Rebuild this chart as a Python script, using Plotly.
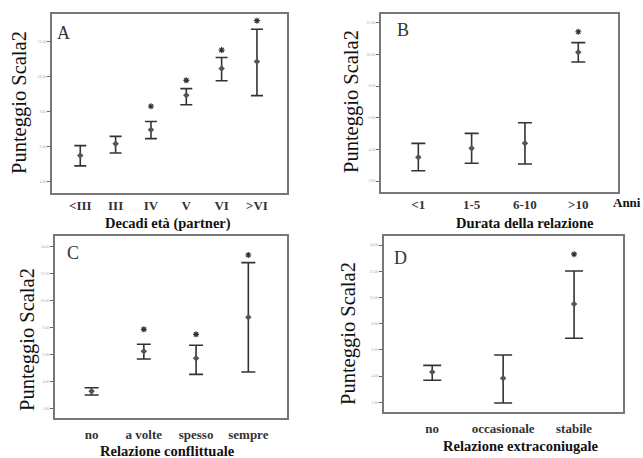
import plotly.graph_objects as go

W, H = 643, 458

# ---- data ----
a_cats = ["<III", "III", "IV", "V", "VI", ">VI"]
a_mean = [5.50, 6.17, 6.97, 8.93, 10.44, 10.84]
a_low = [4.91, 5.64, 6.46, 8.38, 9.75, 8.90]
a_high = [6.06, 6.59, 7.43, 9.30, 11.07, 12.67]
a_star_cats = ["IV", "V", "VI", ">VI"]
a_star = [8.30, 9.77, 11.49, 13.16]
a_ticks = [4, 6, 8, 10, 12]
a_ticklabels = ["4.00", "6.00", "8.00", "10.00", "12.00"]

b_cats = ["<1", "1-5", "6-10", ">10"]
b_mean = [3.50, 4.07, 4.38, 10.13]
b_low = [2.65, 3.12, 3.07, 9.52]
b_high = [4.38, 5.01, 5.68, 10.74]
b_star_cats = [">10"]
b_star = [11.43]
b_ticks = [2, 4, 6, 8, 10, 12]
b_ticklabels = ["2.00", "4.00", "6.00", "8.00", "10.00", "12.00"]

c_cats = ["no", "a volte", "spesso", "sempre"]
c_mean = [3.26, 6.23, 5.71, 8.76]
c_low = [2.99, 5.66, 4.52, 4.69]
c_high = [3.53, 6.75, 6.68, 12.81]
c_star_cats = ["a volte", "spesso", "sempre"]
c_star = [7.86, 7.49, 13.38]
c_ticks = [2, 4, 6, 8, 10, 12, 14]
c_ticklabels = ["2.00", "4.00", "6.00", "8.00", "10.00", "12.00", "14.00"]

d_cats = ["no", "occasionale", "stabile"]
d_mean = [4.31, 3.83, 9.50]
d_low = [3.68, 1.95, 6.89]
d_high = [4.82, 5.61, 12.02]
d_star_cats = ["stabile"]
d_star = [13.30]
d_ticks = [2, 4, 6, 8, 10, 12, 14]
d_ticklabels = ["2.00", "4.00", "6.00", "8.00", "10.00", "12.00", "14.00"]

panels = [
    dict(letter="A", cats=a_cats, mean=a_mean, low=a_low, high=a_high, sc=a_star_cats, sv=a_star,
         ticks=a_ticks, tl=a_ticklabels, box=(52, 287, 14, 193), yr=(3.37, 13.54), xr=(-0.8, 5.85),
         cap=6, xlabel="Decadi età (partner)", xl_pos=(168, 223), yt_pos=(19, 103),
         let_pos=(63, 33), standoff=0),
    dict(letter="B", cats=b_cats, mean=b_mean, low=b_low, high=b_high, sc=b_star_cats, sv=b_star,
         ticks=b_ticks, tl=b_ticklabels, box=(381, 618, 14, 192), yr=(1.305, 12.55), xr=(-0.7, 3.745),
         cap=7, xlabel="Durata della relazione", xl_pos=(525, 223), yt_pos=(352, 102),
         let_pos=(403, 30), standoff=0),
    dict(letter="C", cats=c_cats, mean=c_mean, low=c_low, high=c_high, sc=c_star_cats, sv=c_star,
         ticks=c_ticks, tl=c_ticklabels, box=(55, 287, 236, 418), yr=(1.28, 14.79), xr=(-0.70, 3.74),
         cap=7, xlabel="Relazione conflittuale", xl_pos=(167, 451), yt_pos=(27, 340),
         let_pos=(73, 253), standoff=4),
    dict(letter="D", cats=d_cats, mean=d_mean, low=d_low, high=d_high, sc=d_star_cats, sv=d_star,
         ticks=d_ticks, tl=d_ticklabels, box=(384, 623, 236, 412), yr=(1.26, 14.69), xr=(-0.68, 2.69),
         cap=9, xlabel="Relazione extraconiugale", xl_pos=(521, 446), yt_pos=(348, 334),
         let_pos=(400, 258), standoff=4),
]

fig = go.Figure()
annotations = []
SERIF = "Liberation Serif"

for i, p in enumerate(panels):
    n = "" if i == 0 else str(i + 1)
    xa, ya = "x" + n, "y" + n
    plus = [h - m for h, m in zip(p["high"], p["mean"])]
    minus = [m - l for m, l in zip(p["mean"], p["low"])]
    fig.add_trace(go.Scatter(
        x=p["cats"], y=p["mean"], mode="markers", xaxis=xa, yaxis=ya,
        marker=dict(symbol="diamond", size=5, color="#555"),
        error_y=dict(type="data", symmetric=False, array=plus, arrayminus=minus,
                     color="#333", thickness=1.6, width=p["cap"]),
        showlegend=False))
    fig.add_trace(go.Scatter(
        x=p["sc"], y=p["sv"], mode="markers", xaxis=xa, yaxis=ya,
        marker=dict(symbol="asterisk-open", size=5, color="#333",
                    line=dict(color="#333", width=1.2)),
        showlegend=False))
    x0, x1, y0, y1 = p["box"]
    dom_x = [x0 / W, x1 / W]
    dom_y = [1 - y1 / H, 1 - y0 / H]
    fig.layout["xaxis" + n] = dict(
        domain=dom_x, anchor=ya, type="category", categoryorder="array", categoryarray=p["cats"],
        range=list(p["xr"]), showgrid=False, zeroline=False, showline=True, mirror=True,
        linecolor="#777", linewidth=1.5, ticks="", automargin=False,
        ticklabelstandoff=p["standoff"],
        tickfont=dict(family=SERIF, size=13, color="#333", weight="bold"))
    fig.layout["yaxis" + n] = dict(
        domain=dom_y, anchor=xa, range=list(p["yr"]), tickvals=p["ticks"], ticktext=p["tl"],
        showgrid=False, zeroline=False, showline=True, mirror=True, automargin=False,
        linecolor="#777", linewidth=1.5, ticks="outside", ticklen=3, tickcolor="#666",
        tickfont=dict(family=SERIF, size=4, color="#aaa"))
    annotations.append(dict(text=p["xlabel"], x=p["xl_pos"][0] / W, y=1 - p["xl_pos"][1] / H,
                            xref="paper", yref="paper", showarrow=False,
                            xanchor="center", yanchor="middle",
                            font=dict(family=SERIF, size=14.5, color="#111", weight="bold")))
    annotations.append(dict(text="Punteggio Scala2", x=p["yt_pos"][0] / W, y=1 - p["yt_pos"][1] / H,
                            xref="paper", yref="paper", showarrow=False, textangle=-90,
                            xanchor="center", yanchor="middle",
                            font=dict(family=SERIF, size=20.5, color="#111")))
    annotations.append(dict(text=p["letter"], x=p["let_pos"][0] / W, y=1 - p["let_pos"][1] / H,
                            xref="paper", yref="paper", showarrow=False,
                            xanchor="center", yanchor="middle",
                            font=dict(family=SERIF, size=18, color="#333")))

annotations.append(dict(text="Anni", x=627 / W, y=1 - 202 / H, xref="paper", yref="paper",
                        showarrow=False, xanchor="center", yanchor="middle",
                        font=dict(family=SERIF, size=13, color="#111", weight="bold")))

fig.update_layout(width=W, height=H, margin=dict(l=0, r=0, t=0, b=0),
                  paper_bgcolor="white", plot_bgcolor="white", annotations=annotations)

fig.write_html("out.html", config={"displayModeBar": False},
               post_script="document.body.style.margin='0px';document.body.style.overflow='hidden';")
